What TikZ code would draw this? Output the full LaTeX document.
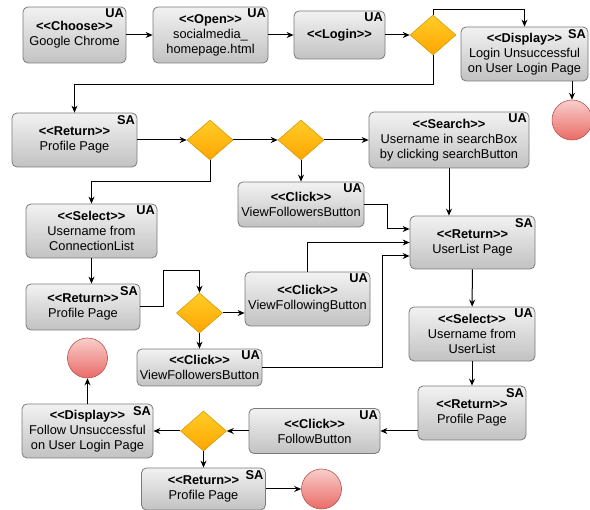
\documentclass[tikz,border=0pt]{standalone}
\usepackage{fontspec}
\setmainfont{Liberation Sans}
\usetikzlibrary{arrows.meta,shapes.geometric}

\definecolor{boxtop}{HTML}{F2F2F2}
\definecolor{boxbot}{HTML}{C2C2C2}
\definecolor{boxline}{HTML}{7A7A7A}
\definecolor{dectop}{HTML}{FFCD28}
\definecolor{decbot}{HTML}{FFA500}
\definecolor{decline}{HTML}{D79B00}
\definecolor{endtop}{HTML}{F8CECC}
\definecolor{endbot}{HTML}{EA6B66}
\definecolor{endline}{HTML}{B85450}

\newcommand{\stereo}[1]{\textbf{<\kern0pt<#1>\kern0pt>}}

\begin{document}
\begin{tikzpicture}[x=1pt, y=-1pt, line width=1pt, >={Stealth[length=7pt,width=6pt]},
        act/.style={draw=boxline, line width=0.8pt, rounded corners=5pt, top color=boxtop, bottom color=boxbot,
                align=center, inner sep=1pt, font=\fontsize{12.8}{15}\selectfont},
        tag/.style={anchor=north east, inner sep=2pt, font=\bfseries\fontsize{12.8}{13}\selectfont},
        dec/.style={diamond, draw=decline, line width=0.6pt, top color=dectop, bottom color=decbot,
                minimum width=46, minimum height=40, inner sep=0pt},
        stop/.style={circle, draw=endline, line width=0.6pt, top color=endtop, bottom color=endbot,
                minimum size=40, inner sep=0pt}]
        \useasboundingbox (0, 0) rectangle (590, 510);

        \node (choose) at (74.5, 35) [act, minimum width=103, minimum height=56, label={[tag]north east:UA}]
                {\stereo{Choose}\\Google Chrome};
        \node (open) at (210.5, 35) [act, minimum width=115, minimum height=56, label={[tag]north east:UA}]
                {\stereo{Open}\\socialmedia\_\\homepage.html};
        \node (login) at (339.5, 35) [act, minimum width=91, minimum height=48, label={[tag]north east:UA}]
                {\stereo{Login}};
        \node (d1) at (433, 35) [dec] {};
        \node (fail1) at (524.5, 54) [act, minimum width=127, minimum height=54, label={[tag]north east:SA}]
                {\stereo{Display}\\Login Unsuccessful\\on User Login Page};
        \node (end1) at (572, 120) [stop] {};

        \node (ret1) at (74.5, 140) [act, minimum width=125, minimum height=54, label={[tag]north east:SA}]
                {\stereo{Return}\\Profile Page};
        \node (d2) at (210, 140) [dec] {};
        \node (d3) at (301, 140) [dec] {};
        \node (search) at (449, 140) [act, minimum width=160, minimum height=56, label={[tag]north east:UA}]
                {\stereo{Search}\\Username in searchBox\\by clicking searchButton};

        \node (clickA) at (301, 204.5) [act, minimum width=126, minimum height=45, label={[tag]north east:UA}]
                {\stereo{Click}\\ViewFollowersButton};
        \node (sel1) at (91.5, 231) [act, minimum width=131, minimum height=54, label={[tag]north east:UA}]
                {\stereo{Select}\\Username from\\ConnectionList};
        \node (ulist) at (472.5, 242.5) [act, minimum width=125, minimum height=53, label={[tag]north east:SA}]
                {\stereo{Return}\\UserList Page};

        \node (ret2) at (83, 307) [act, minimum width=114, minimum height=46, label={[tag]north east:SA}]
                {\stereo{Return}\\Profile Page};
        \node (d4) at (199.5, 313) [dec] {};
        \node (clickB) at (307.5, 299) [act, minimum width=125, minimum height=54, label={[tag]north east:UA}]
                {\stereo{Click}\\ViewFollowingButton};
        \node (sel2) at (472, 334) [act, minimum width=126, minimum height=54, label={[tag]north east:UA}]
                {\stereo{Select}\\Username from\\UserList};
        \node (clickC) at (199.5, 367.5) [act, minimum width=125, minimum height=37, label={[tag]north east:UA}]
                {\stereo{Click}\\ViewFollowersButton};

        \node (end2) at (87.5, 358) [stop] {};
        \node (fail2) at (87.5, 431) [act, minimum width=131, minimum height=54, label={[tag]north east:SA}]
                {\stereo{Display}\\Follow Unsuccessful\\on User Login Page};
        \node (d5) at (203.5, 431) [dec] {};
        \node (follow) at (314.5, 431) [act, minimum width=131, minimum height=45, label={[tag]north east:UA}]
                {\stereo{Click}\\FollowButton};
        \node (ret3) at (472, 413) [act, minimum width=108, minimum height=54, label={[tag]north east:SA}]
                {\stereo{Return}\\Profile Page};
        \node (ret4) at (203.5, 489) [act, minimum width=124, minimum height=42, label={[tag]north east:SA}]
                {\stereo{Return}\\Profile Page};
        \node (end3) at (321.5, 489) [stop] {};

        \draw[->] (choose) -- (open);
        \draw[->] (open) -- (login);
        \draw[->] (login) -- (d1);
        \draw[->] (d1.north) -- ++(0, -5) -| (fail1.north);
        \draw[->] (fail1.south -| end1.north) -- (end1.north);
        \draw[->] (d1.south) -- ++(0, 29) -| (ret1.north);

        \draw[->] (ret1) -- (d2);
        \draw[->] (d2) -- (d3);
        \draw[->] (d3) -- (search);
        \draw[->] (d3) -- (clickA);
        \draw[->] (d2.south) -- ++(0, 21) -| (sel1.north);
        \draw[->] (search.south) -- (search.south |- ulist.north);

        \draw[->] (clickA.east) -- ++(23, 0) |- ([yshift=13.5pt]ulist.west);
        \draw[->] (clickB.north) |- (ulist.west);
        \draw[->] (clickC.east) -- ++(120, 0) |- ([yshift=-13.5pt]ulist.west);

        \draw[->] (sel1.south) -- (sel1.south |- ret2.north);
        \draw[->] (ret2.east) -- ++(23, 0) -- ++(0, -36) -| (d4.north);
        \draw[->] (d4.east) -- (d4.east -| clickB.west);
        \draw[->] (d4) -- (clickC);

        \draw[->] (ulist) -- (sel2);
        \draw[->] (sel2) -- (ret3);
        \draw[->] (ret3.west |- follow.east) -- (follow.east);
        \draw[->] (follow) -- (d5);
        \draw[->] (d5) -- (fail2);
        \draw[->] (fail2) -- (end2);
        \draw[->] (d5) -- (ret4);
        \draw[->] (ret4) -- (end3);
\end{tikzpicture}
\end{document}
